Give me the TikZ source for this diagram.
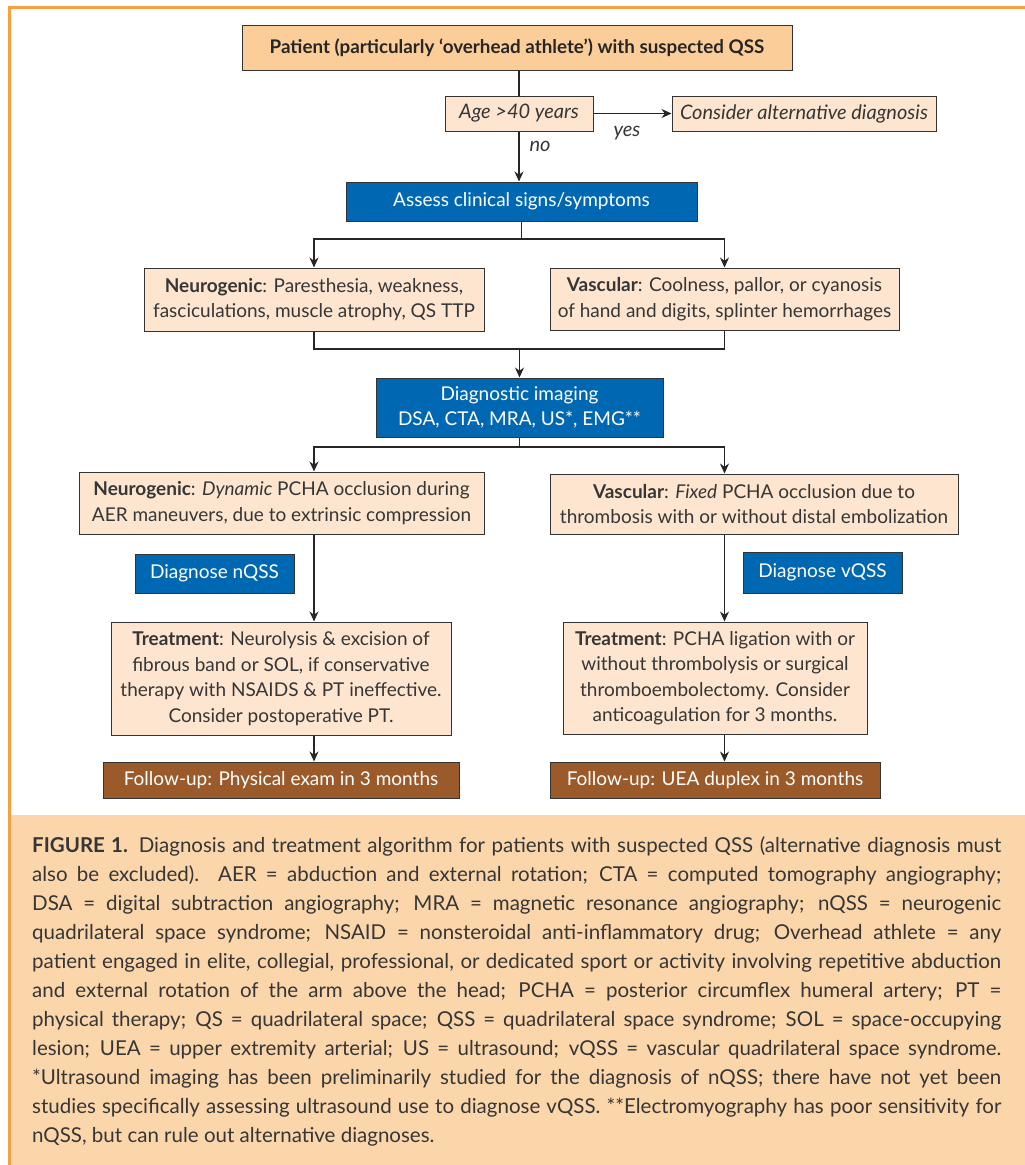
\documentclass[tikz,border=0pt]{standalone}
\usepackage{fontspec}
\setmainfont{Lato}
\usetikzlibrary{arrows.meta}

\definecolor{peachdark}{HTML}{FBCD98}
\definecolor{peachlight}{HTML}{FDE5CF}
\definecolor{figblue}{HTML}{0068B3}
\definecolor{figbrown}{HTML}{9B5A2A}
\definecolor{framegold}{HTML}{F7A042}
\definecolor{captionbg}{HTML}{FBD6AA}
\definecolor{inkgray}{HTML}{363636}

\begin{document}
\begin{tikzpicture}[x=1pt,y=-1pt,
        box/.style={draw=black!80,line width=1pt,inner sep=2pt,align=center,
            font=\fontsize{19}{25.5}\selectfont,text=inkgray},
        softbox/.style={box,fill=peachlight},
        headbox/.style={box,fill=peachdark,text=black!85,
            font=\fontsize{18.8}{22}\selectfont\bfseries},
        bluebox/.style={box,fill=figblue,text=white},
        brownbox/.style={box,fill=figbrown,text=white},
        link/.style={draw=black!85,line width=1.1pt},
        arr/.style={link,-{Stealth[length=10pt,width=9pt]}},
        tag/.style={font=\fontsize{20}{22}\selectfont\itshape,text=inkgray}]
        \useasboundingbox (0,0) rectangle (1025,1165);
        % frame and caption panel
        \fill[captionbg] (11,815) rectangle (1025,1165);
        \draw[framegold,line width=3pt] (9.5,1165) -- (9.5,7.5) -- (1025,7.5);

        % top of the chart
        \node[headbox,minimum width=550pt,minimum height=45pt] (patient) at (517,47.5)
            {Patient (particularly ‘overhead athlete’) with suspected QSS};
        \node[softbox,minimum width=148pt,minimum height=35pt,tag] (age) at (519,113.5)
            {Age >40 years};
        \node[softbox,minimum width=264pt,minimum height=35pt,tag] (alt) at (804,113.5)
            {Consider alternative diagnosis};
        \node[bluebox,minimum width=351pt,minimum height=39pt] (assess) at (521.5,201.5)
            {Assess clinical signs/symptoms};
        \node[tag] (yeslbl) at (627,133) {yes};
        \node[tag] (nolbl) at (540,146) {no};

        % signs and symptoms
        \node[softbox,minimum width=340pt,minimum height=63pt] (neuro1) at (314,299.5)
            {\textbf{Neurogenic}: Paresthesia, weakness,\\fasciculations, muscle atrophy, QS TTP};
        \node[softbox,minimum width=349pt,minimum height=62pt] (vasc1) at (724.5,299)
            {\textbf{Vascular}: Coolness, pallor, or cyanosis\\of hand and digits, splinter hemorrhages};
        \node[bluebox,minimum width=287pt,minimum height=59pt] (imaging) at (519.5,407.5)
            {Diagnostic imaging\\DSA, CTA, MRA, US*, EMG**};

        % findings, diagnosis, treatment
        \node[softbox,minimum width=405pt,minimum height=62pt] (neuro2) at (281.5,503)
            {\textbf{Neurogenic}: \textit{Dynamic} PCHA occlusion during\\AER maneuvers, due to extrinsic compression};
        \node[softbox,minimum width=408pt,minimum height=60pt] (vasc2) at (754,504)
            {\textbf{Vascular}: \textit{Fixed} PCHA occlusion due to\\thrombosis with or without distal embolization};
        \node[bluebox,minimum width=159pt,minimum height=39pt] (dxn) at (214.5,573.5) {Diagnose nQSS};
        \node[bluebox,minimum width=159pt,minimum height=41pt] (dxv) at (822.5,572.5) {Diagnose vQSS};
        \node[softbox,minimum width=340pt,minimum height=113pt] (treat1) at (281,678.5)
            {\textbf{Treatment}: Neurolysis \& excision of\\fibrous band or SOL, if conservative\\therapy with NSAIDS \& PT ineffective.\\Consider postoperative PT.};
        \node[softbox,minimum width=304pt,minimum height=112pt] (treat2) at (715,678)
            {\textbf{Treatment}: PCHA ligation with or\\without thrombolysis or surgical\\thromboembolectomy. Consider\\anticoagulation for 3 months.};
        \node[brownbox,minimum width=356pt,minimum height=36pt] (follow1) at (281,780)
            {Follow-up: Physical exam in 3 months};
        \node[brownbox,minimum width=330pt,minimum height=36pt] (follow2) at (715,780)
            {Follow-up: UEA duplex in 3 months};

        \coordinate (split1) at (assess.south |- 0,239);
        \coordinate (merge1) at (imaging.north |- 0,349);
        \coordinate (split2) at (imaging.south |- 0,447);

        % connectors
        \draw[link] (patient.south -| age.north) -- (age.north);
        \draw[arr] (age.east) -- (alt.west);
        \draw[arr] (age.south) -- (assess.north -| age.south);
        \draw[link] (assess.south) -- (split1);
        \draw[arr] (split1) -| (neuro1.north);
        \draw[arr] (split1) -| (vasc1.north);
        \draw[link] (neuro1.south) |- (merge1) -| (vasc1.south);
        \draw[arr] (merge1) -- (imaging.north);
        \draw[link] (imaging.south) -- (split2);
        \draw[arr] (split2) -| (neuro1 |- neuro2.north);
        \draw[arr] (split2) -| (vasc1 |- vasc2.north);
        \draw[arr] (neuro1 |- neuro2.south) -- (neuro1 |- treat1.north);
        \draw[arr] (vasc1 |- vasc2.south) -- (vasc1 |- treat2.north);
        \draw[arr] (neuro1 |- treat1.south) -- (neuro1 |- follow1.north);
        \draw[arr] (vasc1 |- treat2.south) -- (vasc1 |- follow2.north);

        % caption
        \node[anchor=north west,inner sep=0pt,text width=969pt,align=justify,text=inkgray,
            font=\fontsize{20.5}{29}\selectfont] (caption) at (32,836)
            {\textbf{FIGURE 1.} Diagnosis and treatment algorithm for patients with suspected QSS (alternative diagnosis must\linebreak
            also be excluded). AER = abduction and external rotation; CTA = computed tomography angiography;\linebreak
            DSA = digital subtraction angiography; MRA = magnetic resonance angiography; nQSS = neurogenic\linebreak
            quadrilateral space syndrome; NSAID = nonsteroidal anti-inflammatory drug; Overhead athlete = any\linebreak
            patient engaged in elite, collegial, professional, or dedicated sport or activity involving repetitive abduction\linebreak
            and external rotation of the arm above the head; PCHA = posterior circumflex humeral artery; PT =\linebreak
            physical therapy; QS = quadrilateral space; QSS = quadrilateral space syndrome; SOL = space-occupying\linebreak
            lesion; UEA = upper extremity arterial; US = ultrasound; vQSS = vascular quadrilateral space syndrome.\linebreak
            *Ultrasound imaging has been preliminarily studied for the diagnosis of nQSS; there have not yet been\linebreak
            studies specifically assessing ultrasound use to diagnose vQSS. **Electromyography has poor sensitivity for\linebreak
            nQSS, but can rule out alternative diagnoses.};
\end{tikzpicture}
\end{document}
